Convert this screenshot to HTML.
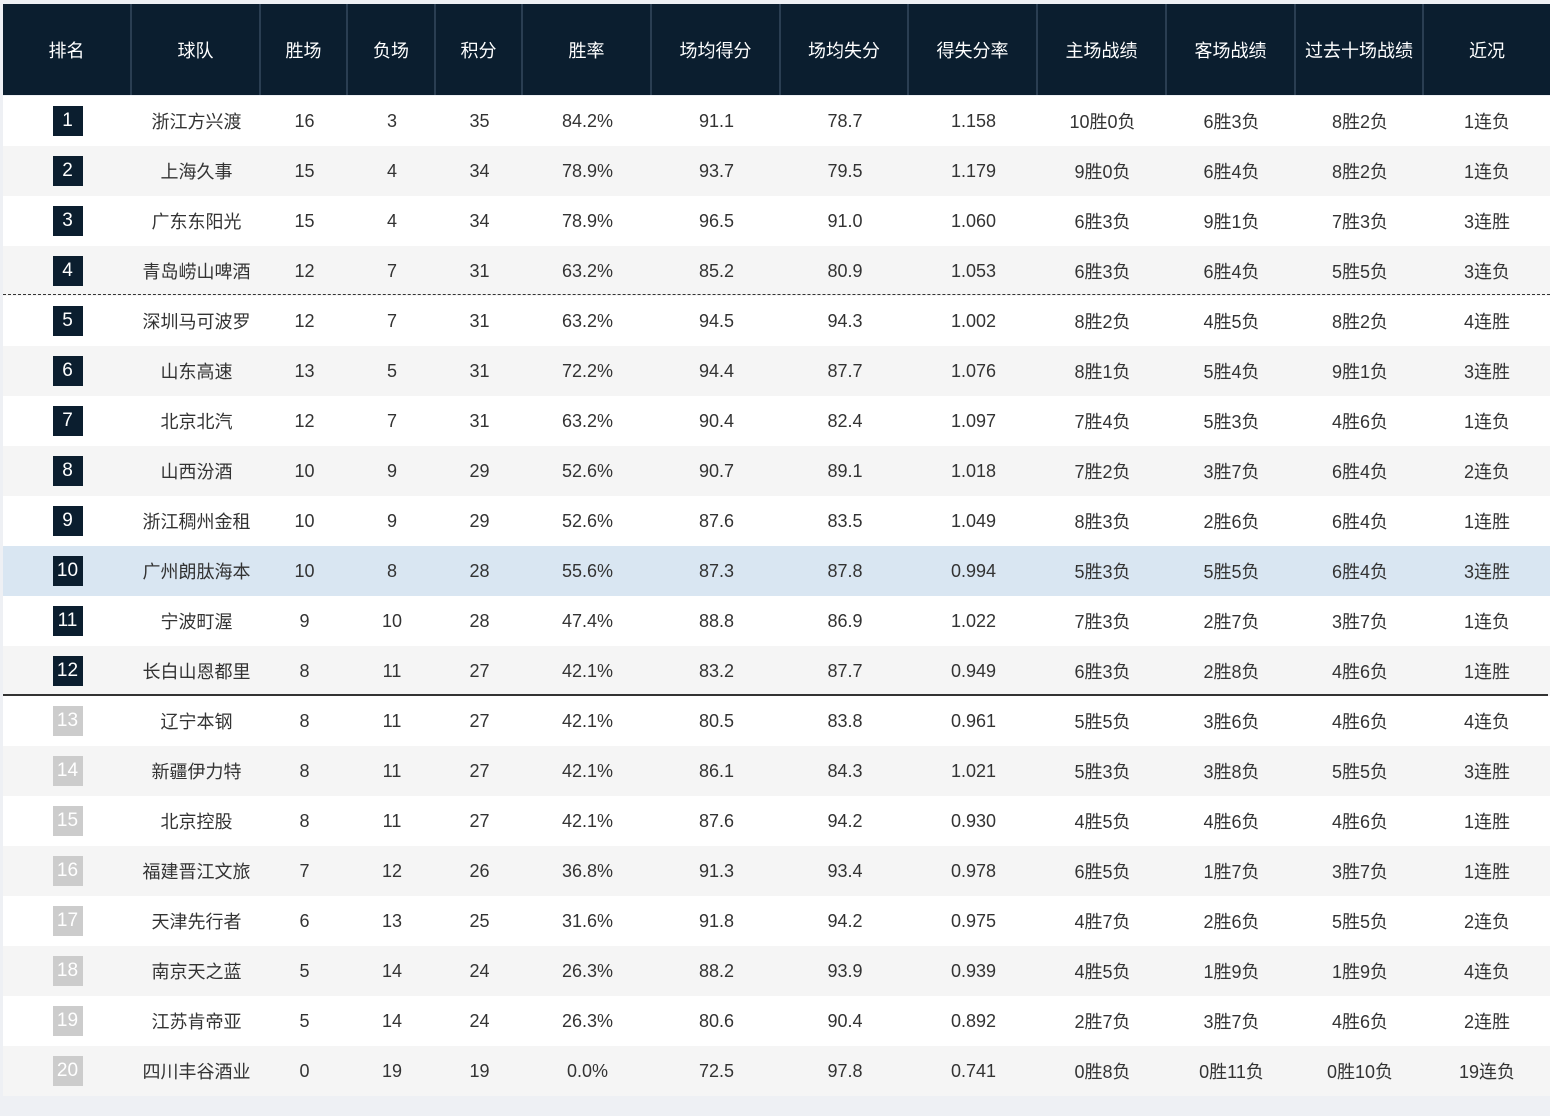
<!DOCTYPE html>
<html><head><meta charset="utf-8">
<style>
body{margin:0;width:1550px;height:1116px;background:#eef0f4;font-family:"Liberation Sans","Noto Sans CJK SC",sans-serif;overflow:hidden}
#tbl{position:absolute;left:3px;top:4px;width:1547px}
.hdr{position:absolute;top:0;height:91px;background:#0b1e2f;color:#fff;font-size:18px;display:flex;align-items:center;justify-content:center;border-right:2px solid #2a3e52;box-sizing:border-box}
.row{position:absolute;left:0;width:1547px;height:50px}
.cell{position:absolute;top:0;height:50px;display:flex;align-items:center;justify-content:center;font-size:18px;color:#333}
.badge{width:30px;height:30px;background:#0b1e2f;color:#fff;display:flex;align-items:center;justify-content:center;font-size:19px}
.badge.low{background:#cccccc}
</style></head><body>
<div id="tbl"></div>
<script>
const headers=["排名","球队","胜场","负场","积分","胜率","场均得分","场均失分","得失分率","主场战绩","客场战绩","过去十场战绩","近况"];
const teams=["浙江方兴渡","上海久事","广东东阳光","青岛崂山啤酒","深圳马可波罗","山东高速","北京北汽","山西汾酒","浙江稠州金租","广州朗肽海本","宁波町渥","长白山恩都里","辽宁本钢","新疆伊力特","北京控股","福建晋江文旅","天津先行者","南京天之蓝","江苏肯帝亚","四川丰谷酒业"];
const wins=[16,15,15,12,12,13,12,10,10,10,9,8,8,8,8,7,6,5,5,0];
const losses=[3,4,4,7,7,5,7,9,9,8,10,11,11,11,11,12,13,14,14,19];
const points=[35,34,34,31,31,31,31,29,29,28,28,27,27,27,27,26,25,24,24,19];
const winPct=["84.2%","78.9%","78.9%","63.2%","63.2%","72.2%","63.2%","52.6%","52.6%","55.6%","47.4%","42.1%","42.1%","42.1%","42.1%","36.8%","31.6%","26.3%","26.3%","0.0%"];
const ptsFor=["91.1","93.7","96.5","85.2","94.5","94.4","90.4","90.7","87.6","87.3","88.8","83.2","80.5","86.1","87.6","91.3","91.8","88.2","80.6","72.5"];
const ptsAgainst=["78.7","79.5","91.0","80.9","94.3","87.7","82.4","89.1","83.5","87.8","86.9","87.7","83.8","84.3","94.2","93.4","94.2","93.9","90.4","97.8"];
const ratio=["1.158","1.179","1.060","1.053","1.002","1.076","1.097","1.018","1.049","0.994","1.022","0.949","0.961","1.021","0.930","0.978","0.975","0.939","0.892","0.741"];
const home=["10胜0负","9胜0负","6胜3负","6胜3负","8胜2负","8胜1负","7胜4负","7胜2负","8胜3负","5胜3负","7胜3负","6胜3负","5胜5负","5胜3负","4胜5负","6胜5负","4胜7负","4胜5负","2胜7负","0胜8负"];
const away=["6胜3负","6胜4负","9胜1负","6胜4负","4胜5负","5胜4负","5胜3负","3胜7负","2胜6负","5胜5负","2胜7负","2胜8负","3胜6负","3胜8负","4胜6负","1胜7负","2胜6负","1胜9负","3胜7负","0胜11负"];
const last10=["8胜2负","8胜2负","7胜3负","5胜5负","8胜2负","9胜1负","4胜6负","6胜4负","6胜4负","6胜4负","3胜7负","4胜6负","4胜6负","5胜5负","4胜6负","3胜7负","5胜5负","1胜9负","4胜6负","0胜10负"];
const streak=["1连负","1连负","3连胜","3连负","4连胜","3连胜","1连负","2连负","1连胜","3连胜","1连负","1连胜","4连负","3连胜","1连胜","1连胜","2连负","4连负","2连胜","19连负"];
const colX=[0,129,258,345,433,520,649,778,906,1035,1164,1293,1421,1547];
const tbl=document.getElementById('tbl');
headers.forEach((h,i)=>{
  const d=document.createElement('div');d.className='hdr';
  
  
  d.style.left=colX[i]+'px';d.style.width=(colX[i+1]-colX[i])+'px';
  if(i===headers.length-1)d.style.borderRight='none';
  d.textContent=h;tbl.appendChild(d);
});
teams.forEach((t,r)=>{
  const row=document.createElement('div');row.className='row';
  
  
  row.style.top=(92+r*50)+'px';
  row.style.background=r===9?'#d9e6f2':(r%2?'#f5f5f5':'#fff');
  const vals=[null,t,wins[r],losses[r],points[r],winPct[r],ptsFor[r],ptsAgainst[r],ratio[r],home[r],away[r],last10[r],streak[r]];
  vals.forEach((v,i)=>{
    const c=document.createElement('div');c.className='cell';
    
    
    c.style.left=colX[i]+'px';c.style.width=(colX[i+1]-colX[i])+'px';
    if(i===0){const b=document.createElement('div');b.className='badge'+(r>=12?' low':'');
      
      
      b.textContent=r+1;c.appendChild(b);}
    else c.textContent=v;
    row.appendChild(c);
  });
  tbl.appendChild(row);
});
const dash=document.createElement('div');


dash.style.cssText='position:absolute;left:0;width:1547px;top:290px;border-top:1px dashed #333';
tbl.appendChild(dash);
const solid=document.createElement('div');


solid.style.cssText='position:absolute;left:0;width:1545px;top:690px;border-top:2px solid #333';
tbl.appendChild(solid);
</script>
</body></html>
